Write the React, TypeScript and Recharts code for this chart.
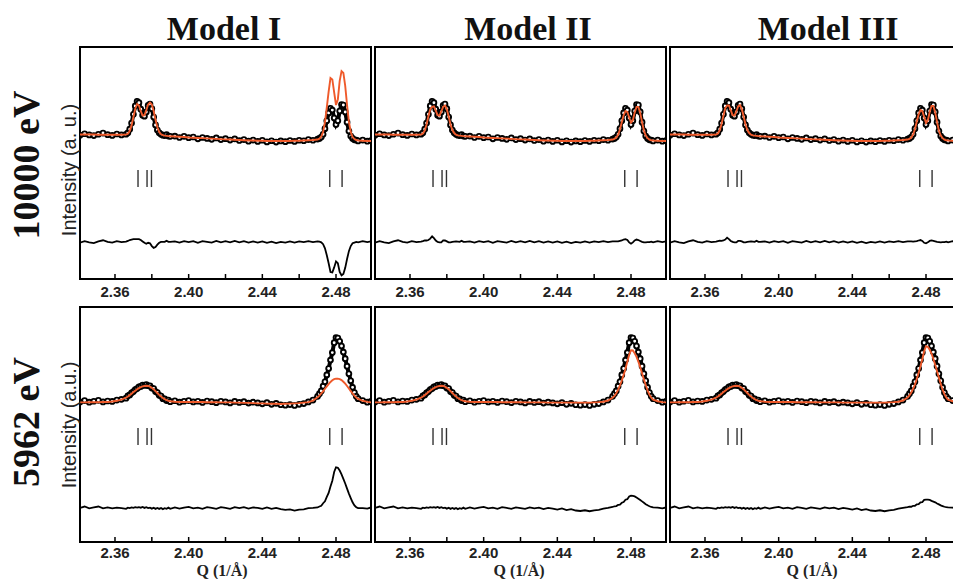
import { ComposedChart, Line, Scatter, XAxis, YAxis, ReferenceArea } from "recharts";

const ORANGE = "#ef5a2b";

// Q grid (1/Å): denser around the two peak groups
const Q = [
  2.341, 2.3435, 2.346, 2.3485, 2.351, 2.3535, 2.356, 2.3585, 2.361, 2.3635,
  2.366, 2.367, 2.368, 2.369, 2.37, 2.371, 2.372, 2.373, 2.374, 2.375, 2.376, 2.377, 2.378,
  2.379, 2.38, 2.381, 2.382, 2.383, 2.384, 2.385, 2.386, 2.387, 2.388, 2.389, 2.39,
  2.3925, 2.395, 2.3975, 2.4, 2.4025, 2.405, 2.4075, 2.41, 2.4125, 2.415, 2.4175, 2.42,
  2.4225, 2.425, 2.4275, 2.43, 2.4325, 2.435, 2.4375, 2.44, 2.4425, 2.445, 2.4475, 2.45,
  2.4525, 2.455, 2.4575, 2.46, 2.4625, 2.465, 2.4675,
  2.47, 2.471, 2.472, 2.473, 2.474, 2.475, 2.476, 2.477, 2.478, 2.479, 2.48, 2.481, 2.482,
  2.483, 2.484, 2.485, 2.486, 2.487, 2.488, 2.489, 2.49, 2.491, 2.492,
  2.4945, 2.497, 2.499,
];

// 10000 eV
const TOP_OBS = [
  62.0, 62.6, 62.1, 61.8, 62.4, 62.9, 62.2, 61.9, 62.5, 62.1,
  62.4, 63.0, 64.6, 67.2, 71.0, 74.6, 76.6, 76.0, 73.2, 70.6, 70.2, 72.0, 74.8,
  75.4, 73.4, 69.8, 66.4, 64.2, 63.0, 62.4, 62.0, 61.8, 62.2, 61.6, 61.5,
  61.6, 61.0, 61.5, 60.9, 61.2, 60.4, 61.0, 60.6, 60.2, 60.8, 60.1, 60.5,
  59.9, 60.4, 59.7, 60.1, 59.4, 59.9, 59.3, 59.8, 59.1, 59.6, 59.0, 59.5,
  59.2, 59.7, 59.3, 59.8, 59.6, 60.1, 59.8,
  60.3, 60.6, 61.2, 62.4, 64.8, 68.2, 71.6, 73.6, 72.8, 69.4, 66.6, 68.2, 72.4,
  75.2, 75.0, 72.0, 67.6, 63.8, 61.6, 60.6, 60.0, 59.9, 59.5,
  59.9, 59.4, 59.7,
];
const TOP_CALC_I = [
  62.3, 62.3, 62.3, 62.3, 62.2, 62.2, 62.2, 62.2, 62.2, 62.2,
  62.3, 62.6, 63.8, 66.2, 69.8, 73.4, 75.4, 74.8, 72.4, 70.4, 70.6, 72.8, 75.2,
  76.0, 75.2, 72.4, 68.6, 65.4, 63.4, 62.4, 62.0, 61.8, 61.7, 61.6, 61.5,
  61.4, 61.3, 61.2, 61.0, 60.9, 60.8, 60.7, 60.6, 60.5, 60.4, 60.3, 60.2,
  60.1, 60.0, 59.9, 59.8, 59.7, 59.7, 59.6, 59.6, 59.5, 59.5, 59.5, 59.5,
  59.5, 59.5, 59.6, 59.6, 59.7, 59.8, 59.9,
  60.1, 60.5, 61.4, 63.4, 67.6, 74.0, 80.8, 86.6, 86.0, 80.4, 75.0, 77.4, 85.4,
  89.6, 88.8, 83.2, 75.0, 67.8, 63.4, 61.2, 60.3, 59.9, 59.7,
  59.6, 59.5, 59.5,
];
const TOP_CALC_II = [
  62.3, 62.3, 62.3, 62.3, 62.2, 62.2, 62.2, 62.2, 62.2, 62.2,
  62.3, 62.7, 64.0, 66.6, 70.2, 73.2, 74.2, 74.4, 72.6, 70.6, 70.4, 72.2, 74.2,
  74.8, 73.2, 70.0, 66.6, 64.2, 62.9, 62.2, 61.9, 61.8, 61.7, 61.6, 61.5,
  61.4, 61.3, 61.2, 61.0, 60.9, 60.8, 60.7, 60.6, 60.5, 60.4, 60.3, 60.2,
  60.1, 60.0, 59.9, 59.8, 59.7, 59.7, 59.6, 59.6, 59.5, 59.5, 59.5, 59.5,
  59.5, 59.5, 59.6, 59.6, 59.7, 59.8, 59.9,
  60.1, 60.4, 61.0, 62.2, 64.4, 67.6, 70.6, 72.4, 72.0, 69.6, 67.4, 68.4, 71.8,
  74.2, 74.2, 71.6, 67.6, 64.0, 61.8, 60.7, 60.1, 59.8, 59.7,
  59.6, 59.5, 59.5,
];
const TOP_CALC_III = [
  62.3, 62.3, 62.3, 62.3, 62.2, 62.2, 62.2, 62.2, 62.2, 62.2,
  62.3, 62.7, 64.1, 66.8, 70.4, 73.6, 74.8, 74.8, 72.8, 70.6, 70.4, 72.2, 74.4,
  75.0, 73.2, 70.0, 66.6, 64.2, 62.9, 62.2, 61.9, 61.8, 61.7, 61.6, 61.5,
  61.4, 61.3, 61.2, 61.0, 60.9, 60.8, 60.7, 60.6, 60.5, 60.4, 60.3, 60.2,
  60.1, 60.0, 59.9, 59.8, 59.7, 59.7, 59.6, 59.6, 59.5, 59.5, 59.5, 59.5,
  59.5, 59.5, 59.6, 59.6, 59.7, 59.8, 59.9,
  60.1, 60.4, 61.0, 62.3, 64.6, 67.9, 71.0, 72.8, 72.4, 69.8, 67.2, 68.4, 72.0,
  74.6, 74.6, 71.8, 67.6, 63.9, 61.8, 60.7, 60.1, 59.8, 59.7,
  59.6, 59.5, 59.5,
];

// 5962 eV
const BOT_OBS = [
  59.6, 60.2, 59.5, 59.9, 60.3, 59.6, 60.0, 59.8, 60.4, 60.7,
  61.2, 62.2, 62.6, 63.5, 64.0, 64.9, 65.3, 66.0, 66.2, 66.8, 66.6, 67.0, 66.5,
  66.4, 65.5, 65.3, 64.0, 63.6, 62.4, 62.1, 61.0, 60.9, 60.2, 60.4, 59.7,
  60.1, 59.5, 59.9, 60.2, 59.6, 59.9, 59.4, 60.0, 59.7, 59.3, 59.9, 59.6,
  59.2, 59.8, 59.4, 59.7, 59.1, 59.5, 59.2, 58.8, 59.3, 58.6, 59.0, 58.4,
  58.2, 58.5, 58.1, 58.6, 58.9, 59.6, 60.4,
  62.0, 63.1, 64.3, 66.3, 68.2, 71.1, 73.8, 77.4, 80.6, 84.8, 87.0, 86.8, 85.4,
  83.4, 80.8, 78.0, 74.8, 71.6, 68.6, 65.8, 63.6, 62.0, 61.0,
  60.2, 59.5, 59.8,
];
const BOT_CALC_I = [
  59.4, 59.4, 59.5, 59.5, 59.5, 59.6, 59.6, 59.8, 60.1, 60.6,
  61.4, 61.9, 62.5, 63.1, 63.8, 64.4, 65.0, 65.5, 65.9, 66.2, 66.4, 66.5, 66.4,
  66.1, 65.6, 65.0, 64.2, 63.4, 62.6, 61.9, 61.3, 60.8, 60.4, 60.1, 59.9,
  59.7, 59.6, 59.6, 59.6, 59.6, 59.6, 59.6, 59.5, 59.5, 59.5, 59.4, 59.4,
  59.4, 59.3, 59.3, 59.2, 59.2, 59.1, 59.0, 59.0, 58.9, 58.8, 58.8, 58.7,
  58.8, 58.9, 59.0, 59.1, 59.3, 59.5, 60.2,
  61.6, 62.3, 63.2, 64.1, 65.2, 66.2, 67.2, 68.1, 68.8, 69.3, 69.5, 69.5, 69.3,
  68.9, 68.2, 67.4, 66.4, 65.3, 64.2, 63.2, 62.3, 61.5, 60.9,
  60.1, 59.6, 59.4,
];
const BOT_CALC_II = [
  59.4, 59.4, 59.5, 59.5, 59.5, 59.6, 59.6, 59.8, 60.1, 60.6,
  61.4, 61.9, 62.5, 63.1, 63.8, 64.4, 65.0, 65.5, 65.9, 66.2, 66.4, 66.5, 66.4,
  66.1, 65.6, 65.0, 64.2, 63.4, 62.6, 61.9, 61.3, 60.8, 60.4, 60.1, 59.9,
  59.7, 59.6, 59.6, 59.6, 59.6, 59.6, 59.6, 59.5, 59.5, 59.5, 59.5, 59.5,
  59.4, 59.4, 59.4, 59.4, 59.4, 59.3, 59.3, 59.3, 59.3, 59.3, 59.3, 59.3,
  59.3, 59.3, 59.3, 59.4, 59.5, 59.7, 60.2,
  61.4, 62.2, 63.3, 64.8, 66.6, 68.7, 71.1, 73.7, 76.7, 79.7, 81.6, 81.5, 80.3,
  78.8, 76.7, 74.4, 71.8, 69.2, 66.8, 64.5, 62.7, 61.4, 60.6,
  59.9, 59.5, 59.4,
];
const BOT_CALC_III = [
  59.4, 59.4, 59.5, 59.5, 59.5, 59.6, 59.6, 59.8, 60.1, 60.6,
  61.4, 61.9, 62.5, 63.1, 63.8, 64.4, 65.0, 65.5, 65.9, 66.2, 66.4, 66.5, 66.4,
  66.1, 65.6, 65.0, 64.2, 63.4, 62.6, 61.9, 61.3, 60.8, 60.4, 60.1, 59.9,
  59.7, 59.6, 59.6, 59.6, 59.6, 59.6, 59.6, 59.5, 59.5, 59.5, 59.5, 59.5,
  59.4, 59.4, 59.4, 59.4, 59.4, 59.3, 59.3, 59.3, 59.3, 59.3, 59.3, 59.3,
  59.3, 59.3, 59.3, 59.4, 59.5, 59.7, 60.2,
  61.5, 62.4, 63.6, 65.2, 67.1, 69.4, 72.0, 74.8, 77.9, 81.2, 83.3, 83.1, 81.8,
  80.2, 77.9, 75.4, 72.7, 69.9, 67.3, 64.8, 62.9, 61.5, 60.6,
  59.9, 59.5, 59.4,
];

// Bragg reflection positions
const BRAGG_Q = [2.3725, 2.3774, 2.3798, 2.4766, 2.4833];

const MODELS = ["Model I", "Model II", "Model III"];
const ENERGIES = ["10000 eV", "5962 eV"];
const Y_LABELS = ["Intensity (a. u.)", "Intensity (a.u.)"];
const Q_TICKS = [2.36, 2.38, 2.4, 2.42, 2.44, 2.46, 2.48];
const Q_LABELS = [2.36, 2.4, 2.44, 2.48];

const SANS = "'Liberation Sans', Arial, sans-serif";
const SERIF = "'Liberation Serif', 'Times New Roman', serif";

const PANEL_W = 291;
const PANEL_LEFT = [80, 375, 670];
const AXIS_H = 30;

const ROWS = [
  { top: 47, height: 232, obs: TOP_OBS, calcs: [TOP_CALC_I, TOP_CALC_II, TOP_CALC_III], offset: 16, bragg: 43.3, tickMargin: 12 },
  { top: 307, height: 235, obs: BOT_OBS, calcs: [BOT_CALC_I, BOT_CALC_II, BOT_CALC_III], offset: 14.3, bragg: 44.9, tickMargin: 10 },
];

const BraggTick = (props: any) => {
  const { cx, cy } = props;
  return <line x1={cx} x2={cx} y1={cy - 8.5} y2={cy + 8.5} stroke="#333" strokeWidth={1.4} />;
};

const CHART_MARGIN = { top: 2, right: 2, left: 2, bottom: 0 };

function Panel({ obs, calc, offset, bragg, left, top, height, tickMargin }: any) {
  const data = Q.map((q, i) => ({ q, obs: obs[i], calc: calc[i], diff: obs[i] - calc[i] + offset }));
  const braggData = BRAGG_Q.map((q) => ({ q, y: bragg }));
  const w = PANEL_W + 4;
  const h = height + 2 + AXIS_H;
  return (
    <div style={{ position: "absolute", left: left - 2, top: top - 2, width: w, height: h }}>
      {/* observed points underneath */}
      <div style={{ position: "absolute", left: 0, top: 0 }}>
        <ComposedChart width={w} height={h} data={data} margin={CHART_MARGIN}>
          <XAxis type="number" dataKey="q" domain={[2.341, 2.499]} allowDataOverflow height={AXIS_H} tick={false} tickLine={false} axisLine={false} />
          <YAxis type="number" domain={[0, 100]} hide />
          <Line
            dataKey="obs"
            stroke="#000"
            strokeWidth={4}
            dot={{ r: 2.4, stroke: "#000", strokeWidth: 1.9, fill: "#fff" }}
            isAnimationActive={false}
          />
        </ComposedChart>
      </div>
      {/* calculated, difference, reflections, frame on top */}
      <div style={{ position: "absolute", left: 0, top: 0 }}>
        <ComposedChart width={w} height={h} data={data} margin={CHART_MARGIN}>
          <XAxis
            type="number"
            dataKey="q"
            domain={[2.341, 2.499]}
            allowDataOverflow
            ticks={Q_TICKS}
            interval={0}
            tickSize={-5}
            tickMargin={tickMargin}
            axisLine={false}
            tickLine={{ stroke: "#000", strokeWidth: 1.5 }}
            height={AXIS_H}
            tick={{ fontFamily: SANS, fontWeight: 700, fontSize: 15, fill: "#222" }}
            tickFormatter={(v: number) => (Q_LABELS.includes(v) ? v.toFixed(2) : "")}
          />
          <YAxis type="number" domain={[0, 100]} hide />
          <Line dataKey="calc" stroke={ORANGE} strokeWidth={1.9} dot={false} isAnimationActive={false} />
          <Line dataKey="diff" stroke="#000" strokeWidth={1.8} dot={false} isAnimationActive={false} />
          <Scatter data={braggData} dataKey="y" shape={BraggTick} isAnimationActive={false} />
          <ReferenceArea x1={2.341} x2={2.499} y1={0} y2={100} fill="none" fillOpacity={0} stroke="#000" strokeWidth={2} ifOverflow="visible" />
        </ComposedChart>
      </div>
    </div>
  );
}

export default function App() {
  return (
    <div style={{ position: "fixed", left: 0, top: 0, width: 953, height: 579, overflow: "hidden", background: "#fff" }}>
      {ROWS.map((row, r) =>
        MODELS.map((m, c) => (
          <Panel
            key={`${r}-${c}`}
            obs={row.obs}
            calc={row.calcs[c]}
            offset={row.offset}
            bragg={row.bragg}
            left={PANEL_LEFT[c]}
            top={row.top}
            height={row.height}
            tickMargin={row.tickMargin}
          />
        ))
      )}
      <svg width={953} height={579} style={{ position: "absolute", left: 0, top: 0, pointerEvents: "none" }}>
        {MODELS.map((m, c) => (
          <text key={m} x={[224, 528, 828][c]} y={40} textAnchor="middle" fontFamily={SERIF} fontWeight={700} fontSize={34} fill="#111">
            {m}
          </text>
        ))}
        {ENERGIES.map((e, r) => {
          const cy = [165, 422][r];
          return (
            <text key={e} x={39} y={cy} transform={`rotate(-90 39 ${cy})`} textAnchor="middle" fontFamily={SERIF} fontWeight={700} fontSize={38} fill="#111">
              {e}
            </text>
          );
        })}
        {Y_LABELS.map((t, r) => {
          const cy = [170, 425][r];
          return (
            <text key={t} x={76} y={cy} transform={`rotate(-90 76 ${cy})`} textAnchor="middle" fontFamily={SANS} fontSize={20} fill="#222">
              {t}
            </text>
          );
        })}
        {MODELS.map((m, c) => (
          <text key={`q-${m}`} x={[222, 519, 812][c]} y={576} textAnchor="middle" fontFamily={SERIF} fontWeight={700} fontSize={16} fill="#222">
            Q (1/Å)
          </text>
        ))}
      </svg>
    </div>
  );
}
